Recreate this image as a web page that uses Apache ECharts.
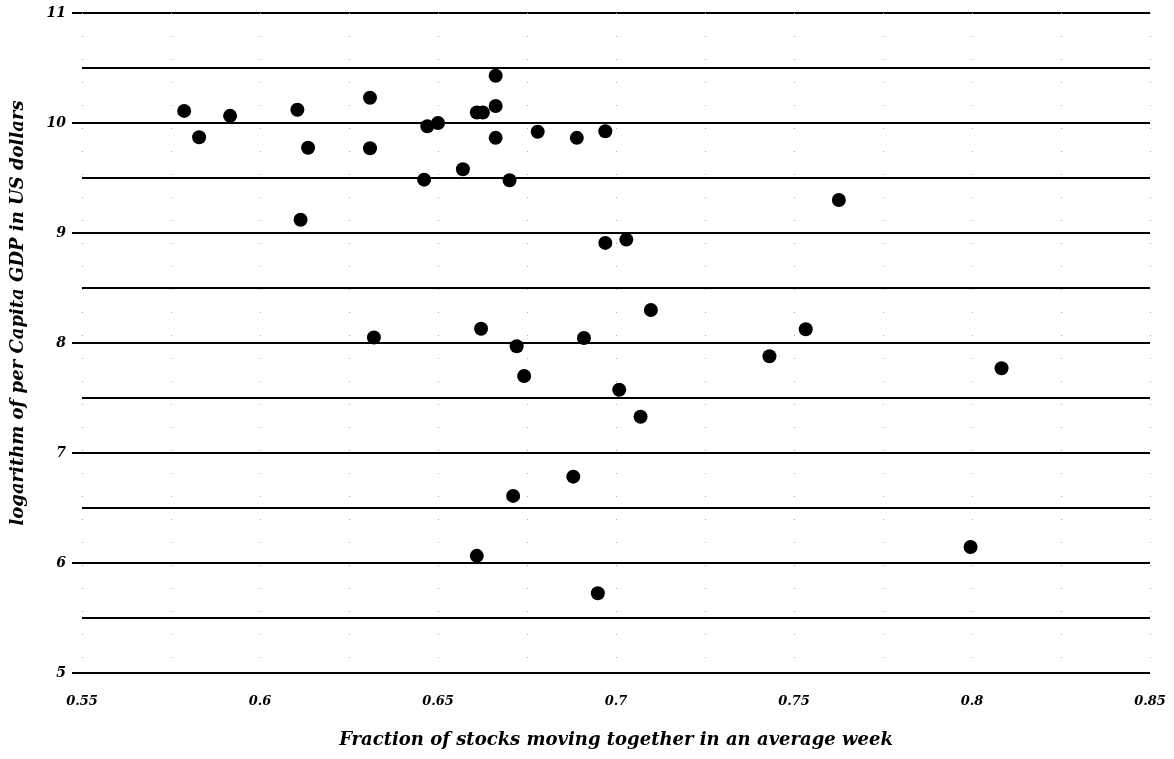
<!DOCTYPE html>
<html>
<head>
<meta charset="utf-8">
<script src="https://cdn.jsdelivr.net/npm/echarts@6/dist/echarts.min.js"></script>
<style>
  html, body { margin: 0; padding: 0; background: #fff; }
  #main { width: 1174px; height: 759px; }
</style>
</head>
<body>
<div id="main"></div>
<script>
// x: fraction of stocks moving together in an average week
const fraction = [
  0.5787, 0.5829, 0.5916, 0.6105, 0.6114, 0.6135, 0.6309, 0.6309, 0.632, 0.6461,
  0.647, 0.650, 0.657, 0.6609, 0.6626, 0.6621, 0.6609, 0.6662, 0.6662, 0.6662,
  0.6701, 0.6711, 0.6721, 0.6742, 0.678, 0.688, 0.689, 0.691, 0.6949, 0.697,
  0.697, 0.7009, 0.7029, 0.7069, 0.7098, 0.7431, 0.7533, 0.7626, 0.7996, 0.8083
]
// y: log of per capita GDP
const logGdp = [
  10.11, 9.87, 10.065, 10.12, 9.12, 9.775, 10.23, 9.77, 8.05, 9.485,
  9.97, 10.0, 9.58, 10.095, 10.095, 8.13, 6.065, 10.43, 10.155, 9.865,
  9.48, 6.61, 7.97, 7.70, 9.92, 6.785, 9.865, 8.045, 5.725, 9.925,
  8.91, 7.575, 8.94, 7.33, 8.30, 7.88, 8.125, 9.30, 6.145, 7.77
]
const xTicks = [0.55, 0.6, 0.65, 0.7, 0.75, 0.8, 0.85]
const yTicks = [5, 6, 7, 8, 9, 10, 11]

const font = {
  fontFamily: 'DejaVu Serif',
  fontStyle: 'italic',
  fontWeight: 'bold',
  color: '#000'
}

const chart = echarts.init(document.getElementById('main'))

const option = {
  animation: false,
  backgroundColor: '#fff',
  grid: { left: 82, right: 24, top: 13, bottom: 86 },
  xAxis: {
    type: 'value',
    min: xTicks[0],
    max: xTicks[xTicks.length - 1],
    interval: 0.05,
    name: 'Fraction of stocks moving together in an average week',
    nameLocation: 'middle',
    nameGap: 58,
    nameTextStyle: { ...font, fontSize: 18 },
    axisLine: { show: false },
    axisTick: { show: false },
    axisLabel: {
      ...font,
      fontSize: 13,
      margin: 22,
      formatter: v => String(+v.toFixed(2))
    },
    // faint dotted verticals every 0.025
    splitLine: { show: true, lineStyle: { color: '#aaa', width: 1, type: [1, 22] } },
    minorTick: { show: false, splitNumber: 2 },
    minorSplitLine: { show: true, lineStyle: { color: '#aaa', width: 1, type: [1, 22] } }
  },
  yAxis: {
    type: 'value',
    min: yTicks[0],
    max: yTicks[yTicks.length - 1],
    interval: 1,
    name: 'logarithm of per Capita GDP in US dollars',
    nameLocation: 'middle',
    nameGap: 55,
    // shift the title a little upward
    nameTextStyle: { ...font, fontSize: 18, padding: [0, 0, 0, 60] },
    axisLine: { show: false },
    axisTick: { show: true, length: 10, lineStyle: { color: '#000', width: 2 } },
    axisLabel: { ...font, fontSize: 14, margin: 16 },
    splitLine: { show: true, lineStyle: { color: '#000', width: 2 } },
    minorTick: { show: false, splitNumber: 2 },
    minorSplitLine: { show: true, lineStyle: { color: '#000', width: 2 } }
  },
  series: [{
    type: 'scatter',
    symbol: 'circle',
    symbolSize: 14,
    itemStyle: { color: '#000', opacity: 1 },
    data: fraction.map((x, i) => [x, logGdp[i]])
  }]
}

chart.setOption(option)
</script>
</body>
</html>
